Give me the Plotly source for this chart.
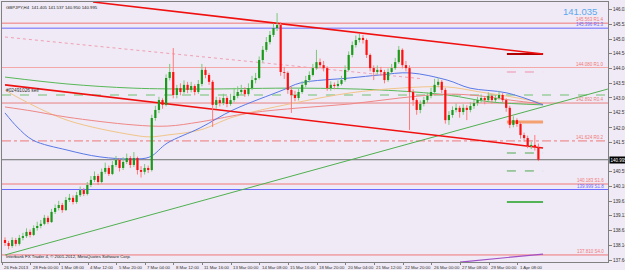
import plotly.graph_objects as go

# ---------------- data ----------------
opens = [138.31,138.21,138.11,138.31,138.18,138.38,138.44,138.58,138.48,138.71,
         138.78,138.85,139.05,138.91,139.25,139.38,139.48,139.31,139.65,139.72,
         139.58,139.81,139.98,139.85,140.15,140.32,140.45,140.25,140.59,140.72,
         140.52,140.82,140.99,140.72,140.92,141.05,140.82,141.05,140.65,140.59,
         140.72,140.65,142.39,142.66,142.99,142.83,143.73,143.93,143.16,143.39,
         143.26,143.50,143.33,143.46,143.26,143.53,144.00,143.83,143.60,142.83,
         142.99,142.89,143.06,142.86,142.99,143.13,143.26,143.33,143.19,143.39,
         143.66,143.73,144.33,144.67,144.93,145.17,145.40,145.50,143.93,143.90,
         143.33,143.16,143.06,143.26,143.50,143.66,143.83,144.06,144.26,144.16,
         144.06,143.39,143.50,143.46,143.53,143.66,144.00,144.50,144.83,145.00,
         145.07,145.00,144.50,144.06,143.93,144.00,143.93,143.66,143.93,144.06,
         144.26,144.67,144.16,144.06,143.26,142.99,142.66,142.86,142.99,143.13,
         143.26,143.50,143.60,143.33,142.32,142.49,142.66,142.73,142.59,142.73,
         142.66,142.79,142.89,142.99,143.06,142.99,143.13,142.99,143.06,143.16,
         142.99,142.73,142.16,142.32,142.19,141.82,141.72,141.45,141.49,141.405]
closes = [138.21,138.11,138.31,138.18,138.38,138.44,138.58,138.48,138.71,138.78,
          138.85,139.05,138.91,139.25,139.38,139.48,139.31,139.65,139.72,139.58,
          139.81,139.98,139.85,140.15,140.32,140.45,140.25,140.59,140.72,140.52,
          140.82,140.99,140.72,140.92,141.05,140.82,141.05,140.65,140.59,140.72,
          140.65,142.39,142.66,142.99,142.83,143.73,143.93,143.16,143.39,143.26,
          143.50,143.33,143.46,143.26,143.53,144.00,143.83,143.60,142.83,142.99,
          142.89,143.06,142.86,142.99,143.13,143.26,143.33,143.19,143.39,143.66,
          143.73,144.33,144.67,144.93,145.17,145.40,145.50,143.93,143.90,143.33,
          143.16,143.06,143.26,143.50,143.66,143.83,144.06,144.26,144.16,144.06,
          143.39,143.50,143.46,143.53,143.66,144.00,144.50,144.83,145.00,145.07,
          145.00,144.50,144.06,143.93,144.00,143.93,143.66,143.93,144.06,144.26,
          144.67,144.16,144.06,143.26,142.99,142.66,142.86,142.99,143.13,143.26,
          143.50,143.60,143.33,142.32,142.49,142.66,142.73,142.59,142.73,142.66,
          142.79,142.89,142.99,143.06,142.99,143.13,142.99,143.06,143.16,142.99,
          142.73,142.16,142.32,142.19,141.82,141.72,141.45,141.49,141.405,140.995]
highs = [138.40,138.28,138.40,138.38,138.48,138.55,138.70,138.66,138.80,138.92,
         138.98,139.15,139.12,139.35,139.50,139.62,139.55,139.75,139.85,139.80,
         139.92,140.10,140.05,140.25,140.45,140.60,140.52,140.70,140.90,140.80,
         140.95,141.12,141.05,141.08,141.20,141.12,141.25,141.10,140.78,140.85,
         140.80,142.50,142.80,143.10,143.05,143.85,144.20,144.73,143.50,143.55,
         143.65,143.60,143.60,143.52,143.66,144.20,144.10,143.90,143.66,143.10,
         143.08,143.20,143.12,143.20,143.40,143.45,143.50,143.42,143.55,143.80,
         143.90,144.45,144.80,145.10,145.30,145.55,145.90,145.60,144.10,143.95,
         143.45,143.30,143.38,143.62,143.80,143.95,144.20,144.67,144.38,144.30,
         144.12,143.62,143.58,143.65,143.80,144.15,144.62,144.95,145.15,145.20,
         145.17,145.05,144.55,144.15,144.15,144.10,144.00,144.05,144.20,144.40,
         144.80,144.72,144.30,144.15,143.35,143.05,142.98,143.10,143.25,143.40,
         143.70,143.73,143.66,143.40,142.62,142.78,142.88,142.80,142.85,142.82,
         142.92,143.00,143.10,143.18,143.12,143.25,143.18,143.16,143.30,143.22,
         143.05,142.80,142.45,142.38,142.25,141.90,141.80,141.60,141.82,141.537]
lows = [138.11,138.00,138.05,138.10,138.12,138.30,138.38,138.40,138.44,138.62,
        138.70,138.80,138.84,138.88,139.18,139.30,139.22,139.28,139.58,139.50,
        139.52,139.75,139.78,139.80,140.08,140.25,140.15,140.20,140.52,140.45,
        140.48,140.75,140.60,140.65,140.85,140.72,140.75,140.50,140.40,140.50,
        140.55,140.60,142.30,142.55,142.70,142.78,143.65,143.05,143.05,143.15,
        143.20,143.22,143.25,143.15,143.20,143.45,143.72,143.50,142.09,142.70,
        142.78,142.82,142.75,142.80,142.92,143.05,143.18,143.10,143.12,143.32,
        143.55,143.68,144.25,144.60,144.85,145.10,145.30,143.80,143.70,143.20,
        142.56,142.95,142.98,143.20,143.42,143.58,143.78,144.00,144.05,143.95,
        143.30,143.30,143.35,143.40,143.48,143.60,143.95,144.42,144.75,144.92,
        144.88,144.40,143.95,143.66,143.85,143.80,143.55,143.60,143.88,144.00,
        144.20,144.05,143.95,141.99,142.80,142.50,142.55,142.78,142.90,143.05,
        143.20,143.42,143.22,142.20,142.16,142.40,142.58,142.40,142.50,142.32,
        142.58,142.70,142.80,142.90,142.85,142.92,142.88,142.92,143.00,142.90,
        142.60,142.05,142.08,142.10,141.70,141.60,141.38,141.35,141.30,140.950]

# moving averages (sampled at bar index)
ma_blue_i = [0, 3.4, 7.8, 17.3, 26.5, 35.8, 40.5, 45.3, 54.5, 63.7, 77.7, 82.4, 96.4, 104.7, 113.1, 123.5, 129.9, 140.2, 150.3]
ma_blue_p = [142.56, 142.09, 141.65, 141.32, 141.09, 141.02, 141.09, 141.55, 142.06, 142.66, 143.33, 143.56, 143.73, 143.83, 143.90, 143.66, 143.39, 143.23, 142.83]
ma_green_i = [0, 17.3, 35.8, 54.5, 82.4, 104.7, 123.5, 135.5, 150.3]
ma_green_p = [143.76, 143.53, 143.39, 143.36, 143.39, 143.33, 143.16, 142.93, 142.83]
ma_orange_i = [0, 3.4, 17.3, 35.8, 40.5, 45.3, 54.5, 63.7, 82.4, 96.4, 110.3, 123.5, 132.7, 141.9, 150.3]
ma_orange_p = [143.33, 143.09, 142.32, 141.82, 141.76, 141.82, 141.99, 142.42, 142.93, 143.23, 143.39, 143.43, 143.26, 143.09, 142.89]
ma_pink_i = [0, 7.8, 17.3, 35.8, 45.3, 54.5, 68.4, 82.4, 96.4, 110.3, 123.5, 132.7, 141.1, 150.3]
ma_pink_p = [142.76, 142.62, 142.42, 142.16, 142.12, 142.26, 142.56, 142.73, 142.86, 143.06, 143.19, 143.13, 142.99, 142.86]

# trend lines (bar index, price)
upper_chan_i = [24.6, 150.3]
upper_chan_p = [146.27, 144.53]
lower_chan_i = [0, 150.3]
lower_chan_p = [143.50, 141.39]
mid_dotted_i = [0, 115.9]
mid_dotted_p = [145.10, 143.71]
green_tl_i = [0, 168.4]
green_tl_p = [137.81, 143.36]
purple_i = [127.1, 139.0, 150.3]
purple_p = [137.57, 137.70, 137.84]

# horizontal levels across the chart
level_prices = [145.563, 145.396, 144.080, 142.892, 141.624, 140.183, 139.999, 137.810]
level_labels = ["145.563 R1.4", "145.396 R1.3", "144.080 R1.0", "142.892 R0.4",
                "141.624 R0.2", "140.183 S1.6", "139.999 S1.8", "137.810 S4.0"]
level_colors = ['#f07878', '#6a6aff', '#f4a8a8', '#e88080', '#f07878', '#f07878', '#6a6aff', '#f07878']
level_dash = ['solid', 'solid', 'solid', 'solid', 'dashdot', 'solid', 'solid', 'solid']

bid_price = 140.995
order_price = 143.16
order_label = "#02491026 sell"

# short right-hand segments
seg_i = [140.2, 150.3]
seg_prices = [144.53, 143.93, 142.26, 141.22, 140.62, 139.58]
seg_colors = ['#b00000', '#f090b0', '#f4a070', '#50a850', '#50a850', '#20a020']
seg_dash = ['solid', 'dash', 'solid', 'dash', 'dash', 'solid']
seg_width = [2, 1, 3, 1, 1, 1.5]

# axes
x_tick_idx = [0, 8, 16, 24, 32, 40, 48, 56, 64, 72, 80, 88, 96, 104, 112, 120, 128, 136, 144]
x_tick_text = ["26 Feb 2013", "28 Feb 00:00", "1 Mar 08:00", "4 Mar 12:00", "5 Mar 20:00",
               "7 Mar 04:00", "8 Mar 12:00", "11 Mar 16:00", "13 Mar 00:00", "14 Mar 08:00",
               "15 Mar 16:00", "18 Mar 20:00", "20 Mar 04:00", "21 Mar 12:00", "22 Mar 20:00",
               "26 Mar 00:00", "27 Mar 08:00", "29 Mar 00:00", "1 Apr 08:00"]
# (the 141.080 label is hidden behind the bid box in the picture)
y_tick_vals = [146.020, 145.520, 145.030, 144.540, 144.040, 143.550, 143.060, 142.570, 142.060,
               141.570, 140.590, 140.100, 139.610, 139.120, 138.630, 138.140, 137.640]
y_tick_text = ["%.3f" % v for v in y_tick_vals]

title_text = "GBPJPY,H4  141.405 141.537 140.950 140.995"
bid_big = "141.035"
copyright_text = "Interbank FX Trader 4, \u00a9 2001-2012, MetaQuotes Software Corp."

# ---------------- figure ----------------
BG = '#efeaf5'
FONT = 'Liberation Sans'
X_RANGE = [-0.84, 168.44]
Y_RANGE = [137.574, 146.271]

fig = go.Figure()

for p, c, d in zip(level_prices, level_colors, level_dash):
    fig.add_shape(type='line', xref='paper', x0=0, x1=1, yref='y', y0=p, y1=p,
                  line=dict(color=c, width=1, dash=d), layer='below')
fig.add_shape(type='line', xref='paper', x0=0, x1=1, yref='y', y0=bid_price, y1=bid_price,
              line=dict(color='#707070', width=1), layer='below')
fig.add_shape(type='line', xref='paper', x0=0, x1=1, yref='y', y0=order_price, y1=order_price,
              line=dict(color='#70c070', width=1, dash='dash'), layer='below')
for p, c, d, w in zip(seg_prices, seg_colors, seg_dash, seg_width):
    fig.add_shape(type='line', xref='x', x0=seg_i[0], x1=seg_i[1], yref='y', y0=p, y1=p,
                  line=dict(color=c, width=w, dash=d), layer='below')

# moving averages
for xi, yp, col in [(ma_green_i, ma_green_p, '#58b858'), (ma_orange_i, ma_orange_p, '#f2c488'),
                    (ma_pink_i, ma_pink_p, '#f08888'), (ma_blue_i, ma_blue_p, '#5a78e8')]:
    fig.add_trace(go.Scatter(x=xi, y=yp, mode='lines', line=dict(color=col, width=1, shape='spline'),
                             hoverinfo='skip'))

# trend lines
fig.add_trace(go.Scatter(x=mid_dotted_i, y=mid_dotted_p, mode='lines', line=dict(color='#f0a0b4', width=1, dash='dot'), hoverinfo='skip'))
fig.add_trace(go.Scatter(x=green_tl_i, y=green_tl_p, mode='lines', line=dict(color='#50b050', width=1), hoverinfo='skip'))
fig.add_trace(go.Scatter(x=upper_chan_i, y=upper_chan_p, mode='lines', line=dict(color='#f01010', width=1.6), hoverinfo='skip'))
fig.add_trace(go.Scatter(x=lower_chan_i, y=lower_chan_p, mode='lines', line=dict(color='#f01010', width=1.6), hoverinfo='skip'))
fig.add_trace(go.Scatter(x=purple_i, y=purple_p, mode='lines', line=dict(color='#a050c8', width=1.2), hoverinfo='skip'))

# candles: wicks then bodies
up_wx, up_wy, dn_wx, dn_wy = [], [], [], []
up_bx, up_by, dn_bx, dn_by = [], [], [], []
for i, (o, h, l, c) in enumerate(zip(opens, highs, lows, closes)):
    if c >= o:
        up_wx += [i, i, None]; up_wy += [l, h, None]
        up_bx += [i, i, None]; up_by += [o, c, None]
    else:
        dn_wx += [i, i, None]; dn_wy += [l, h, None]
        dn_bx += [i, i, None]; dn_by += [o, c, None]
fig.add_trace(go.Scatter(x=up_wx, y=up_wy, mode='lines', line=dict(color='#7cc87c', width=1), hoverinfo='skip'))
fig.add_trace(go.Scatter(x=dn_wx, y=dn_wy, mode='lines', line=dict(color='#ff7a7a', width=1), hoverinfo='skip'))
fig.add_trace(go.Scatter(x=up_bx, y=up_by, mode='lines', line=dict(color='#1a9a1a', width=2.2), hoverinfo='skip'))
fig.add_trace(go.Scatter(x=dn_bx, y=dn_by, mode='lines', line=dict(color='#ff1010', width=2.2), hoverinfo='skip'))

ann = []
# level labels on the right
for p, t, c in zip(level_prices, level_labels, level_colors):
    ann.append(dict(x=X_RANGE[1], y=p, xref='x', yref='y', text=t, showarrow=False,
                    xanchor='right', yanchor='bottom', xshift=-2, yshift=-1,
                    font=dict(family=FONT, size=4.5, color=c if c != '#f4a8a8' else '#f07878')))
# x labels
for xi, t in zip(x_tick_idx, x_tick_text):
    ann.append(dict(x=xi, y=0, xref='x', yref='paper', text=t, showarrow=False,
                    xanchor='left', yanchor='top', xshift=-3, yshift=-1,
                    font=dict(family=FONT, size=4.3, color='#303030')))
ann.append(dict(x=0, y=1, xref='paper', yref='paper', text=title_text, showarrow=False,
                xanchor='left', yanchor='top', xshift=2, yshift=-1,
                font=dict(family=FONT, size=4.3, color='#202020')))
ann.append(dict(x=0, y=0, xref='paper', yref='paper', text=copyright_text, showarrow=False,
                xanchor='left', yanchor='bottom', xshift=2, yshift=1,
                font=dict(family=FONT, size=4.3, color='#202020')))
ann.append(dict(x=0, y=order_price, xref='paper', yref='y', text=order_label, showarrow=False,
                xanchor='left', yanchor='bottom', xshift=2, yshift=0,
                font=dict(family=FONT, size=4.8, color='#303030')))
ann.append(dict(x=160.6, y=145.97, xref='x', yref='y', text=bid_big, showarrow=False,
                xanchor='center', yanchor='middle',
                font=dict(family=FONT, size=9.5, color='#5aa8f0')))
ann.append(dict(x=1, y=bid_price, xref='paper', yref='y', text=str(bid_price), showarrow=False,
                xanchor='left', yanchor='middle', xshift=1, bgcolor='#000000', borderpad=0.5,
                font=dict(family=FONT, size=4.5, color='#ffffff')))

fig.update_layout(
    width=625, height=270, margin=dict(l=2, r=17, t=2, b=8),
    paper_bgcolor=BG, plot_bgcolor=BG, showlegend=False,
    annotations=ann,
    xaxis=dict(range=X_RANGE, tickvals=[v - 0.8 for v in x_tick_idx], showticklabels=False,
               ticks='outside', ticklen=2, tickcolor='#808080', showgrid=False, zeroline=False,
               showline=True, linecolor='#808080', mirror=True, automargin=False, fixedrange=True),
    yaxis=dict(range=Y_RANGE, side='right', tickvals=y_tick_vals, ticktext=y_tick_text,
               ticks='outside', ticklen=3, tickcolor='#808080', showgrid=False, zeroline=False,
               showline=True, linecolor='#808080', mirror=True, automargin=False, fixedrange=True,
               tickfont=dict(family=FONT, size=4.6, color='#303030')),
)

fig.write_html("out.html", config={'displayModeBar': False})
